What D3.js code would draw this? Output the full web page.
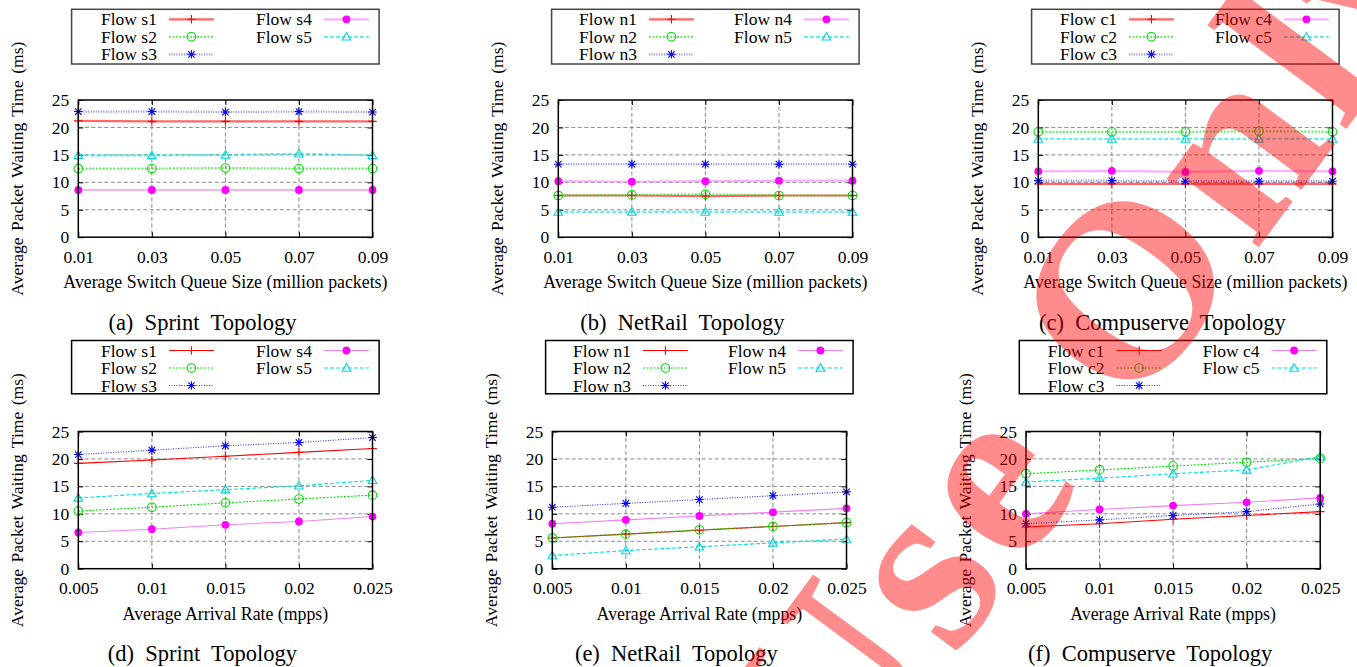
<!DOCTYPE html>
<html lang="en">
<head>
<meta charset="UTF-8">
<title>Average Packet Waiting Time</title>
<script src="https://d3js.org/d3.v7.min.js"></script>
<style>
  body { margin: 0; background: #fff; }
</style>
</head>
<body>
<svg width="1357" height="667"></svg>
<script>
// x values
const queueSizes = [0.01, 0.03, 0.05, 0.07, 0.09];
const arrivalRates = [0.005, 0.01, 0.015, 0.02, 0.025];
const yTicks = [0, 5, 10, 15, 20, 25];

// (a) Sprint, queue size
const sprintQ1 = [21.2, 21.1, 21.1, 21.1, 21.1];
const sprintQ2 = [12.5, 12.5, 12.6, 12.5, 12.5];
const sprintQ3 = [22.9, 22.9, 22.8, 22.9, 22.8];
const sprintQ4 = [8.6, 8.6, 8.6, 8.6, 8.6];
const sprintQ5 = [14.9, 14.9, 15.0, 15.2, 14.9];
// (b) NetRail, queue size
const netrailQ1 = [7.6, 7.6, 7.5, 7.6, 7.6];
const netrailQ2 = [7.6, 7.7, 7.8, 7.6, 7.6];
const netrailQ3 = [13.3, 13.3, 13.3, 13.3, 13.3];
const netrailQ4 = [10.2, 10.1, 10.2, 10.3, 10.3];
const netrailQ5 = [4.6, 4.6, 4.6, 4.6, 4.6];
// (c) Compuserve, queue size
const compQ1 = [9.7, 9.7, 9.7, 9.7, 9.7];
const compQ2 = [19.2, 19.2, 19.2, 19.3, 19.2];
const compQ3 = [10.3, 10.3, 10.2, 10.2, 10.2];
const compQ4 = [12.0, 12.1, 11.9, 12.1, 12.0];
const compQ5 = [17.9, 17.9, 17.9, 17.9, 17.9];
// (d) Sprint, arrival rate
const sprintR1 = [19.2, 19.8, 20.5, 21.2, 21.9];
const sprintR2 = [10.5, 11.2, 12.0, 12.7, 13.4];
const sprintR3 = [20.8, 21.6, 22.4, 23.0, 23.9];
const sprintR4 = [6.6, 7.2, 8.0, 8.6, 9.5];
const sprintR5 = [12.9, 13.7, 14.4, 15.1, 16.1];
// (e) NetRail, arrival rate
const netrailR1 = [5.6, 6.3, 7.0, 7.7, 8.4];
const netrailR2 = [5.6, 6.3, 7.1, 7.7, 8.4];
const netrailR3 = [11.2, 11.9, 12.6, 13.3, 14.0];
const netrailR4 = [8.2, 8.9, 9.6, 10.3, 11.0];
const netrailR5 = [2.4, 3.3, 4.0, 4.7, 5.4];
// (f) Compuserve, arrival rate
const compR1 = [7.6, 8.2, 9.0, 9.7, 10.4];
const compR2 = [17.3, 18.0, 18.7, 19.4, 20.1];
const compR3 = [8.2, 8.9, 9.7, 10.4, 11.8];
const compR4 = [10.0, 10.8, 11.5, 12.1, 12.9];
const compR5 = [15.8, 16.5, 17.3, 18.0, 20.4];

const queueLabel = "Average Switch Queue Size (million packets)";
const rateLabel = "Average Arrival Rate (mpps)";
const yLabel = "Average Packet Waiting Time (ms)";

// gnuplot-like line types 1..5
const styles = [
  {color: "#ff0000", mark: "#ff0000", dash: null, marker: "plus"},
  {color: "#00e000", mark: "#00e000", dash: "2,1.5", marker: "circle"},
  {color: "#3030ff", mark: "#0000ff", dash: "1,1.5", marker: "star"},
  {color: "#f080f0", mark: "#ff00ff", dash: null, marker: "dot"},
  {color: "#00e0e0", mark: "#00d8d8", dash: "4,2", marker: "triangle"}
];

const panels = [
  {left: 78.3, top: 100, xs: queueSizes, xLabel: queueLabel, caption: "(a)  Sprint  Topology", prefix: "s",
   series: [sprintQ1, sprintQ2, sprintQ3, sprintQ4, sprintQ5], heavy: true},
  {left: 558.3, top: 100, xs: queueSizes, xLabel: queueLabel, caption: "(b)  NetRail  Topology", prefix: "n",
   series: [netrailQ1, netrailQ2, netrailQ3, netrailQ4, netrailQ5], heavy: true},
  {left: 1038.3, top: 100, xs: queueSizes, xLabel: queueLabel, caption: "(c)  Compuserve  Topology", prefix: "c",
   series: [compQ1, compQ2, compQ3, compQ4, compQ5], heavy: true},
  {left: 78.3, top: 431.5, xs: arrivalRates, xLabel: rateLabel, caption: "(d)  Sprint  Topology", prefix: "s",
   series: [sprintR1, sprintR2, sprintR3, sprintR4, sprintR5], heavy: false},
  {left: 552.3, top: 431.5, xs: arrivalRates, xLabel: rateLabel, caption: "(e)  NetRail  Topology", prefix: "n",
   series: [netrailR1, netrailR2, netrailR3, netrailR4, netrailR5], heavy: false},
  {left: 1026, top: 431.5, xs: arrivalRates, xLabel: rateLabel, caption: "(f)  Compuserve  Topology", prefix: "c",
   series: [compR1, compR2, compR3, compR4, compR5], heavy: false}
];

const plotW = 294.2, plotH = 137.2;
const serif = "Times New Roman";
const svg = d3.select("svg");

function label(sel, size) {
  return sel.style("font-family", serif).style("font-size", size + "px").attr("fill", "#000");
}

function drawMarker(g, type, x, y, color) {
  const r = 4.3;
  if (type === "plus") {
    g.append("path").attr("d", `M${x - r},${y}h${2 * r}M${x},${y - r}v${2 * r}`)
      .attr("stroke", color).attr("stroke-width", 1.1).attr("fill", "none");
  } else if (type === "circle") {
    g.append("circle").attr("cx", x).attr("cy", y).attr("r", r)
      .attr("stroke", color).attr("stroke-width", 1.1).attr("fill", "none");
  } else if (type === "star") {
    const d = r * 0.75;
    g.append("path")
      .attr("d", `M${x - r},${y}h${2 * r}M${x},${y - r}v${2 * r}M${x - d},${y - d}L${x + d},${y + d}M${x - d},${y + d}L${x + d},${y - d}`)
      .attr("stroke", color).attr("stroke-width", 1.1).attr("fill", "none");
  } else if (type === "dot") {
    g.append("circle").attr("cx", x).attr("cy", y).attr("r", 3.9).attr("fill", color);
  } else if (type === "triangle") {
    g.append("path").attr("d", `M${x},${y - r}L${x + r},${y + r * 0.75}L${x - r},${y + r * 0.75}Z`)
      .attr("stroke", color).attr("stroke-width", 1.1).attr("fill", "none");
  }
}

panels.forEach(p => {
  const g = svg.append("g").attr("transform", `translate(${p.left},${p.top})`);
  const x = d3.scaleLinear().domain(d3.extent(p.xs)).range([0, plotW]);
  const y = d3.scaleLinear().domain([0, 25]).range([plotH, 0]);

  // grid
  g.append("g").selectAll("line").data(yTicks.slice(1, -1)).join("line")
    .attr("x1", 0).attr("x2", plotW).attr("y1", d => y(d)).attr("y2", d => y(d))
    .attr("stroke", "#8a8a8a").attr("stroke-width", 1).attr("stroke-dasharray", "4,2.5");
  g.append("g").selectAll("line").data(p.xs.slice(1, -1)).join("line")
    .attr("y1", 0).attr("y2", plotH).attr("x1", d => x(d)).attr("x2", d => x(d))
    .attr("stroke", "#8a8a8a").attr("stroke-width", 1).attr("stroke-dasharray", "4,2.5");

  // axes with inward ticks
  const fmt = d => String(d);
  const xa = g.append("g").attr("transform", `translate(0,${plotH})`)
    .call(d3.axisBottom(x).tickValues(p.xs).tickFormat(fmt).tickSize(-5).tickPadding(13));
  const xt = g.append("g").call(d3.axisTop(x).tickValues(p.xs).tickFormat("").tickSize(-5));
  const ya = g.append("g").call(d3.axisLeft(y).tickValues(yTicks).tickSize(-5).tickPadding(9));
  const yr = g.append("g").attr("transform", `translate(${plotW},0)`)
    .call(d3.axisRight(y).tickValues(yTicks).tickFormat("").tickSize(-5));
  [xa, xt, ya, yr].forEach(a => {
    a.select(".domain").remove();
    a.attr("font-family", null).attr("font-size", null);
    label(a.selectAll("text"), 17.5);
  });

  // series
  p.series.forEach((vals, i) => {
    const st = styles[i];
    const pts = vals.map((v, j) => [p.xs[j], v]);
    g.append("path").datum(pts)
      .attr("d", d3.line().x(d => x(d[0])).y(d => y(d[1])))
      .attr("fill", "none").attr("stroke", st.color)
      .attr("stroke-width", p.heavy ? 2.2 : 1.1)
      .attr("stroke-opacity", p.heavy ? 0.6 : 1)
      .attr("stroke-dasharray", st.dash);
    pts.forEach(d => drawMarker(g, st.marker, x(d[0]), y(d[1]), st.mark));
  });

  // border
  g.append("rect").attr("width", plotW).attr("height", plotH)
    .attr("fill", "none").attr("stroke", "#000").attr("stroke-width", 1.5);

  // axis titles
  label(g.append("text").attr("x", plotW / 2).attr("y", plotH + 51)
    .attr("text-anchor", "middle"), 17.8).text(p.xLabel);
  label(g.append("text").attr("transform", `translate(-55.5,${plotH / 2}) rotate(-90)`)
    .attr("text-anchor", "middle"), 17.6).style("word-spacing", "2px").text(yLabel);
  label(g.append("text").attr("x", plotW / 2 - 23).attr("y", plotH + 92.5)
    .attr("text-anchor", "middle"), 22.5).style("white-space", "pre").text(p.caption);

  // legend
  const lg = svg.append("g").attr("transform", `translate(${p.left - 6.7},${p.top - (p.heavy ? 90.7 : 91)})`);
  lg.append("rect").attr("width", 307.5).attr("height", p.heavy ? 54.7 : 53.3)
    .attr("fill", "#fff").attr("stroke", p.heavy ? "#444" : "#000").attr("stroke-width", 1.5);
  p.series.forEach((vals, i) => {
    const st = styles[i];
    const col = i < 3 ? 0 : 1;
    const row = i < 3 ? i : i - 3;
    const ty = 10 + row * 17.5;
    const tx = col === 0 ? 85.3 : 240.3;
    label(lg.append("text").attr("x", tx).attr("y", ty).attr("dy", "0.35em")
      .attr("text-anchor", "end"), 17.5).text(`Flow ${p.prefix}${i + 1}`);
    lg.append("line").attr("x1", tx + 12).attr("x2", tx + 57).attr("y1", ty).attr("y2", ty)
      .attr("stroke", st.color).attr("stroke-width", p.heavy ? 2.2 : 1.1)
      .attr("stroke-opacity", p.heavy ? 0.6 : 1).attr("stroke-dasharray", st.dash);
    drawMarker(lg, st.marker, tx + 34.5, ty, st.mark);
  });
});

// watermark
svg.append("text")
  .attr("transform", "translate(841,812) rotate(-53.5)")
  .style("font-family", serif).style("font-weight", "bold").style("font-size", "250px")
  .style("letter-spacing", "10px")
  .style("fill", "#ff0000").style("fill-opacity", 0.45)
  .text("Use Only");
</script>
</body>
</html>
